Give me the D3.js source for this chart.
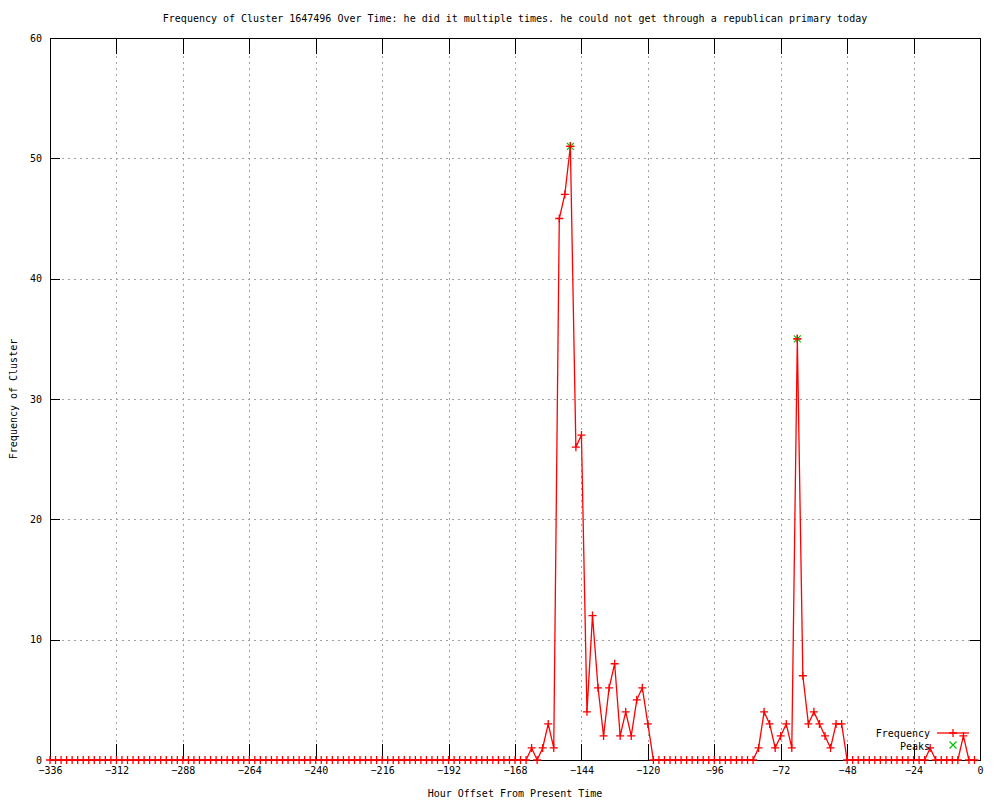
<!DOCTYPE html>
<html>
<head>
<meta charset="utf-8">
<script src="https://cdn.jsdelivr.net/npm/d3@7"></script>
<style>
  html, body { margin: 0; padding: 0; background: #fff; }
  svg { display: block; }
  text { font-family: "DejaVu Sans Mono", "Liberation Mono", monospace; font-size: 10px; fill: #000; }
</style>
</head>
<body>
<svg id="chart" width="1000" height="800"></svg>
<script>
// ---- data ----
const titleText = "Frequency of Cluster 1647496 Over Time: he did it multiple times. he could not get through a republican primary today";
const xLabel = "Hour Offset From Present Time";
const yLabel = "Frequency of Cluster";
const hours = d3.range(-336, 0, 2); // -336 ... -2, one sample every two hours
const frequency = [
  // -336 .. -164
  0,0,0,0,0,0,0,0,0,0, 0,0,0,0,0,0,0,0,0,0,
  0,0,0,0,0,0,0,0,0,0, 0,0,0,0,0,0,0,0,0,0,
  0,0,0,0,0,0,0,0,0,0, 0,0,0,0,0,0,0,0,0,0,
  0,0,0,0,0,0,0,0,0,0, 0,0,0,0,0,0,0,0,0,0,
  0,0,0,0,0,0,0,
  // -162 .. -118
  1,0,1,3,1,45,47,51,26,27,4,12,6,2,6,8,2,4,2,5,6,3,0,
  // -116 .. -82
  0,0,0,0,0,0,0,0,0,0,0,0,0,0,0,0,0,0,
  // -80 .. -48
  1,4,3,1,2,3,1,35,7,3,4,3,2,1,3,3,0,
  // -46 .. -20
  0,0,0,0,0,0,0,0,0,0,0,0,0,0,
  // -18 .. -2
  1,0,0,0,0,0,2,0,0
];
const peakHours = [-148, -66];
const peakValues = [51, 35];
const xTicks = [-336, -312, -288, -264, -240, -216, -192, -168, -144, -120, -96, -72, -48, -24, 0];
const yTicks = [0, 10, 20, 30, 40, 50, 60];
const legendLabels = ["Frequency", "Peaks"];

// ---- layout ----
const svg = d3.select("#chart");
const L = 50, R = 980, T = 38, B = 760;
const x = d3.scaleLinear().domain([-336, 0]).range([L, R]);
const y = d3.scaleLinear().domain([0, 60]).range([B, T]);

const series = hours.map((h, i) => ({ h, v: frequency[i] }));
const peaks = peakHours.map((h, i) => ({ h, v: peakValues[i] }));

// grid
const grid = svg.append("g").attr("stroke", "#a0a0a0").attr("stroke-width", 1)
  .attr("stroke-dasharray", "2,4").attr("shape-rendering", "crispEdges");
xTicks.filter(t => t > -336 && t < 0).forEach(t => {
  grid.append("line").attr("x1", Math.round(x(t)) + 0.5).attr("x2", Math.round(x(t)) + 0.5)
    .attr("y1", T).attr("y2", B);
});
yTicks.filter(t => t > 0 && t < 60).forEach(t => {
  grid.append("line").attr("y1", Math.round(y(t)) + 0.5).attr("y2", Math.round(y(t)) + 0.5)
    .attr("x1", L).attr("x2", R);
});

// axes with inward ticks
const xAxisB = d3.axisBottom(x).tickValues(xTicks).tickSize(0).tickPadding(7).tickFormat(d => d === 0 ? "0" : d3.format("d")(d).replace("-", "\u2212"));
const gx = svg.append("g").attr("transform", `translate(0,${B})`).call(xAxisB);
gx.select(".domain").remove();
gx.selectAll("text").attr("font-size", 10).attr("font-family", "DejaVu Sans Mono");

const yAxisL = d3.axisLeft(y).tickValues(yTicks).tickSize(0).tickPadding(8);
const gy = svg.append("g").attr("transform", `translate(${L},0)`).call(yAxisL);
gy.select(".domain").remove();
gy.selectAll("text").attr("font-size", 10).attr("font-family", "DejaVu Sans Mono");

const tk = svg.append("g").attr("stroke", "#000").attr("stroke-width", 1).attr("shape-rendering", "crispEdges");
xTicks.forEach(t => {
  const px = Math.round(x(t)) + 0.5;
  tk.append("line").attr("x1", px).attr("x2", px).attr("y1", B).attr("y2", B - 16);
  tk.append("line").attr("x1", px).attr("x2", px).attr("y1", T).attr("y2", T + 16);
});
yTicks.forEach(t => {
  const py = Math.round(y(t)) + 0.5;
  tk.append("line").attr("x1", L).attr("x2", L + 10).attr("y1", py).attr("y2", py);
  tk.append("line").attr("x1", R).attr("x2", R - 10).attr("y1", py).attr("y2", py);
});

// frame
svg.append("rect").attr("x", L + 0.5).attr("y", T + 0.5).attr("width", R - L).attr("height", B - T)
  .attr("fill", "none").attr("stroke", "#000").attr("stroke-width", 1).attr("shape-rendering", "crispEdges");

// series line
const line = d3.line().x(d => x(d.h)).y(d => y(d.v));
svg.append("path").datum(series).attr("d", line).attr("fill", "none")
  .attr("stroke", "#ff0000").attr("stroke-width", 1.3);

// plus markers
const ms = 4;
svg.append("g").attr("stroke", "#ff0000").attr("stroke-width", 1.3)
  .selectAll("path").data(series).join("path")
  .attr("d", d => `M${x(d.h) - ms},${y(d.v)}H${x(d.h) + ms}M${x(d.h)},${y(d.v) - ms}V${y(d.v) + ms}`);

// peaks (green x)
const xs = 3.5;
svg.append("g").attr("stroke", "#00c000").attr("stroke-width", 1.2)
  .selectAll("path").data(peaks).join("path")
  .attr("d", d => `M${x(d.h) - xs},${y(d.v) - xs}L${x(d.h) + xs},${y(d.v) + xs}M${x(d.h) - xs},${y(d.v) + xs}L${x(d.h) + xs},${y(d.v) - xs}`);
// red plus on top of peaks
svg.append("g").attr("stroke", "#ff0000").attr("stroke-width", 1.3)
  .selectAll("path").data(peaks).join("path")
  .attr("d", d => `M${x(d.h) - ms},${y(d.v)}H${x(d.h) + ms}M${x(d.h)},${y(d.v) - ms}V${y(d.v) + ms}`);

// legend
const lg = svg.append("g");
lg.append("text").attr("x", 930).attr("y", 733).attr("dy", "0.35em").attr("text-anchor", "end").text(legendLabels[0]);
lg.append("line").attr("x1", 937).attr("x2", 969).attr("y1", 733).attr("y2", 733).attr("stroke", "#ff0000").attr("stroke-width", 1.3);
lg.append("path").attr("d", `M${953 - ms},733H${953 + ms}M953,${733 - ms}V${733 + ms}`).attr("stroke", "#ff0000").attr("stroke-width", 1.3);
lg.append("text").attr("x", 930).attr("y", 746).attr("dy", "0.35em").attr("text-anchor", "end").text(legendLabels[1]);
lg.append("path").attr("d", `M${953 - xs},${745 - xs}L${953 + xs},${745 + xs}M${953 - xs},${745 + xs}L${953 + xs},${745 - xs}`)
  .attr("stroke", "#00c000").attr("stroke-width", 1.2);

// title and axis labels
svg.append("text").attr("x", (L + R) / 2).attr("y", 18).attr("dy", "0.35em").attr("text-anchor", "middle").text(titleText);
svg.append("text").attr("x", (L + R) / 2).attr("y", 793).attr("dy", "0.35em").attr("text-anchor", "middle").text(xLabel);
svg.append("text").attr("transform", `translate(13,399) rotate(-90)`).attr("dy", "0.35em").attr("text-anchor", "middle").text(yLabel);
</script>
</body>
</html>
